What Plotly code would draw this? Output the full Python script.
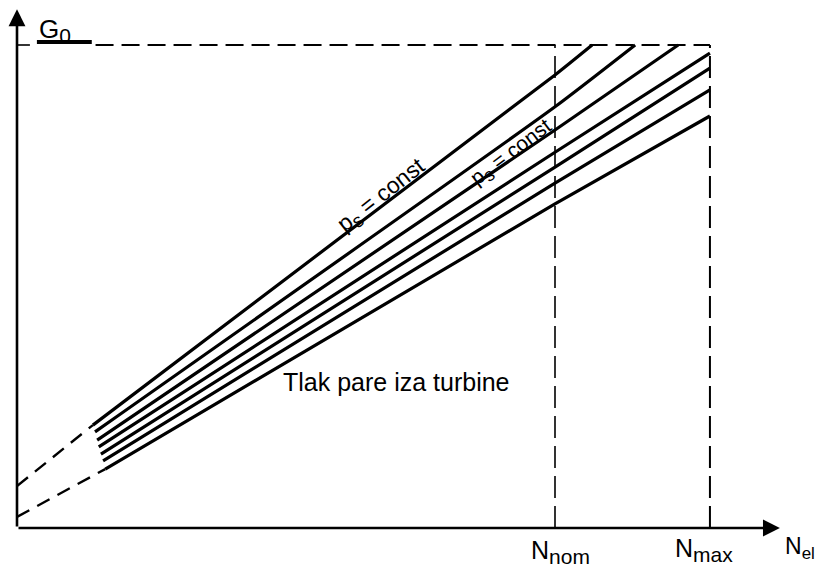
import plotly.graph_objects as go

# ---- data (N in % of N_nom, G in % of G0) ----
N_NOM = 100.0
N_MAX = 128.8
G0 = 100.0

# seven p_s = const lines: start, at N_nom, end
line_N = [
    [14.1, 100.0, 106.9],
    [14.5, 100.0, 114.9],
    [14.9, 100.0, 122.9],
    [15.2, 100.0, 128.8],
    [15.6, 100.0, 128.8],
    [16.0, 100.0, 128.8],
    [16.4, 100.0, 128.8],
]
line_G = [
    [21.3, 93.8, 100.0],
    [19.9, 87.2, 100.0],
    [18.2, 82.4, 100.0],
    [16.8, 77.8, 98.3],
    [15.3, 74.7, 95.2],
    [13.9, 71.4, 90.7],
    [12.2, 67.1, 85.3],
]
# dashed extrapolations to N = 0
ext_upper_N = [0.0, 14.1]
ext_upper_G = [8.7, 21.3]
ext_lower_N = [0.0, 16.4]
ext_lower_G = [2.3, 12.2]

X_MAX = 141.8
Y_MAX = 107.4

FONT = "Liberation Sans, Arial, sans-serif"

# page offset of the plotly div (default body margin)
OFF = 8
PX0, PY0 = 17, 528          # page position of the origin
PLOT_W, PLOT_H = 773, 520
SX, SY = 5.38, 4.83         # px per data unit


def px(page_x):
    return (page_x - PX0) / PLOT_W


def py(page_y):
    return (PY0 - page_y) / PLOT_H


fig = go.Figure()

for xs, ys in zip(line_N, line_G):
    fig.add_trace(go.Scatter(x=xs, y=ys, mode="lines",
                             line=dict(color="black", width=3.2, shape="spline", smoothing=0.5),
                             showlegend=False, hoverinfo="skip"))

for xs, ys in [(ext_upper_N, ext_upper_G), (ext_lower_N, ext_lower_G)]:
    fig.add_trace(go.Scatter(x=xs, y=ys, mode="lines", line=dict(color="black", width=2.4, dash="14px,9px"),
                             showlegend=False, hoverinfo="skip"))

# G0 horizontal dashed line
fig.add_trace(go.Scatter(x=[14.6, N_MAX], y=[G0, G0], mode="lines",
                         line=dict(color="black", width=1.8, dash="18px,8px"), showlegend=False, hoverinfo="skip"))
# vertical dashed lines at N_nom and N_max
fig.add_trace(go.Scatter(x=[N_NOM, N_NOM], y=[0, G0], mode="lines",
                         line=dict(color="black", width=1.6, dash="22px,8px"), showlegend=False, hoverinfo="skip"))
fig.add_trace(go.Scatter(x=[N_MAX, N_MAX], y=[0, G0], mode="lines",
                         line=dict(color="black", width=2.0, dash="22px,8px"), showlegend=False, hoverinfo="skip"))
# G0 marker: small tick on axis and thick underline
fig.add_trace(go.Scatter(x=[0, 2.4], y=[G0, G0], mode="lines", line=dict(color="black", width=1.6),
                         showlegend=False, hoverinfo="skip"))
fig.add_trace(go.Scatter(x=[3.7, 13.9], y=[100.6, 100.6], mode="lines", line=dict(color="black", width=4),
                         showlegend=False, hoverinfo="skip"))


def label(page_x, page_y, text, size, angle=0):
    return dict(x=px(page_x), y=py(page_y), xref="paper", yref="paper", text=text, showarrow=False,
                xanchor="center", yanchor="middle", textangle=angle,
                font=dict(family=FONT, size=size, color="black"))


annotations = [
    # axes with arrows
    dict(x=X_MAX, y=0, ax=0, ay=0, axref="x", ayref="y", xref="x", yref="y", text="",
         showarrow=True, arrowhead=2, arrowsize=1.3, arrowwidth=2.6, arrowcolor="black", standoff=0),
    dict(x=0, y=Y_MAX, ax=0, ay=0, axref="x", ayref="y", xref="x", yref="y", text="",
         showarrow=True, arrowhead=2, arrowsize=1.3, arrowwidth=2.6, arrowcolor="black", standoff=0),
    # labels
    label(55, 31, "G<sub><span style='font-size:21px'>0</span></sub>", 26),
    label(560, 552, "N<sub><span style='font-size:21px'>nom</span></sub>", 25),
    label(704, 550, "N<sub><span style='font-size:21px'>max</span></sub>", 25),
    label(800, 548, "N<sub><span style='font-size:17px'>el</span></sub>", 23),
    label(382, 196, "p<sub><span style='font-size:19px'>s</span></sub> = const", 23, -38),
    label(511, 153, "p<sub><span style='font-size:18px'>s</span></sub> = const", 21, -37),
    label(396, 382, "Tlak pare iza turbine", 25),
]

fig.update_layout(
    width=824, height=573,
    margin=dict(l=PX0 - OFF, r=824 - (PX0 - OFF) - PLOT_W, t=0, b=573 - PLOT_H, autoexpand=False),
    plot_bgcolor="white", paper_bgcolor="white",
    xaxis=dict(range=[0, PLOT_W / SX], visible=False, fixedrange=True),
    yaxis=dict(range=[0, PLOT_H / SY], visible=False, fixedrange=True),
    annotations=annotations,
    showlegend=False,
)

fig.write_html("out.html")
